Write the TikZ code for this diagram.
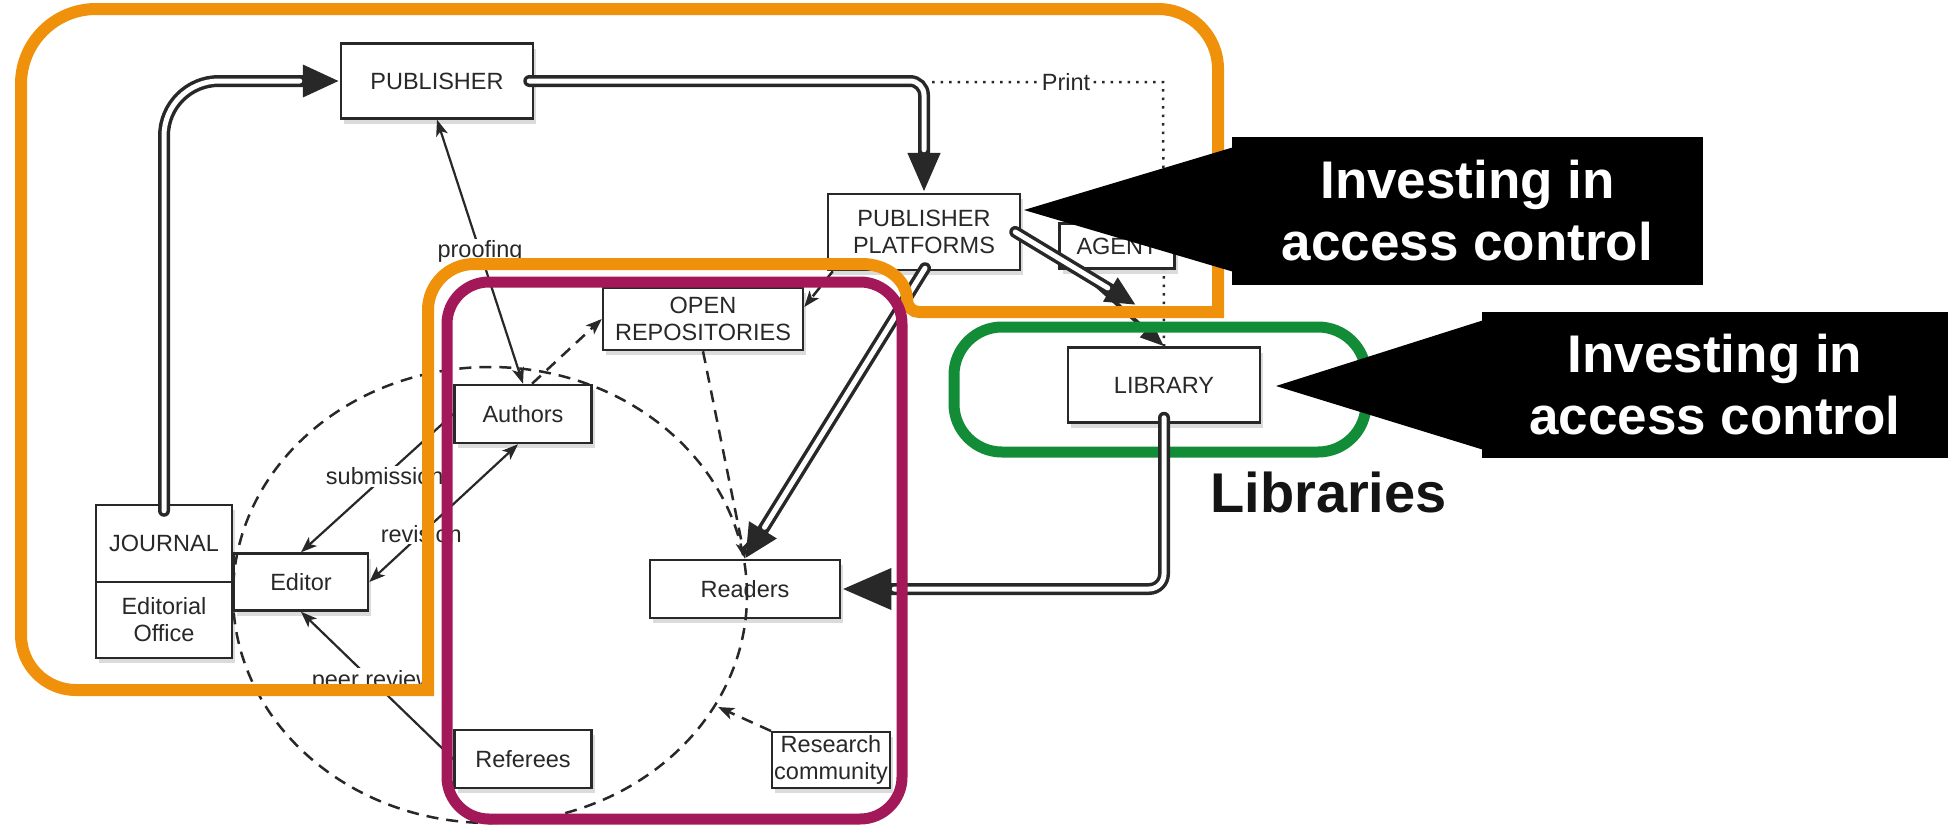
\documentclass[tikz,border=0pt]{standalone}
\usepackage{fontspec}
\setmainfont{Liberation Sans}
\usetikzlibrary{arrows.meta,calc,shadows}
\definecolor{ink}{RGB}{40,40,40}
\definecolor{orng}{RGB}{240,145,12}
\definecolor{mgnt}{RGB}{162,24,88}
\definecolor{grn}{RGB}{18,140,55}
\pgfdeclarelayer{bg}
\pgfsetlayers{bg,main}
\tikzset{
  >={Stealth[length=16pt,width=12pt,inset=4pt]},
  box/.style={draw=ink, line width=2.5pt, fill=white, inner sep=0pt, align=center,
    font=\fontsize{23.5}{27}\selectfont, text=ink,
    drop shadow={shadow xshift=3pt, shadow yshift=-5pt, fill=black!28, draw=none}},
  dbk/.style={line width=12pt, draw=ink, line cap=round},
  dwh/.style={line width=5pt, draw=white, line cap=round},
  thinarrow/.style={draw=ink, line width=2.2pt},
  dsh/.style={draw=ink, line width=2.5pt, dash pattern=on 12pt off 8pt},
  dots/.style={draw=ink, line width=2.5pt, dash pattern=on 2.5pt off 6pt},
  lbl/.style={fill=white, inner sep=2pt, font=\fontsize{23.5}{27}\selectfont, text=ink},
  callout/.style={fill=black, text=white, inner sep=0pt, align=center,
    font=\bfseries\fontsize{53}{62}\selectfont},
  overlay/.style={line width=12pt},
}
\begin{document}
\begin{tikzpicture}[x=1pt,y=-1pt]
\begin{pgfonlayer}{bg}
  \fill[white] (0,0) rectangle (1948,825);
\end{pgfonlayer}
\useasboundingbox (0,0) rectangle (1948,825);

% green group (behind diagram)
\draw[grn, line width=11pt, rounded corners=48pt] (954,327) rectangle (1366,452);

% boxes
\node[box, minimum width=192pt, minimum height=75pt] (publisher) at (437,81) {PUBLISHER};
\node[box, minimum width=192pt, minimum height=76pt] (pp) at (924,232) {PUBLISHER\\PLATFORMS};
\node[box, minimum width=115pt, minimum height=45pt] (agent) at (1117,246) {AGENT};
\node[box, minimum width=200pt, minimum height=62pt] (openrep) at (703,319) {OPEN\\REPOSITORIES};
\node[box, minimum width=137pt, minimum height=58pt] (authors) at (523,414) {Authors};
\node[box, minimum width=136pt, minimum height=77pt] (journal) at (164,543.5) {JOURNAL};
\node[box, minimum width=136pt, minimum height=76pt] (office) at (164,620) {Editorial\\Office};
\node[box, minimum width=134pt, minimum height=57pt] (editor) at (301,582) {Editor};
\node[box, minimum width=190pt, minimum height=58pt] (readers) at (745,589) {Readers};
\node[box, minimum width=137pt, minimum height=58pt] (referees) at (523,759) {Referees};
\node[box, line width=2pt, minimum width=118pt, minimum height=56pt] (research) at (831,760) {Research\\community};
\node[box, minimum width=192pt, minimum height=75pt] (library) at (1164,385) {LIBRARY};

% community circle
\draw[dsh] (490,595) ellipse [x radius=257pt, y radius=228pt];

% connectors behind boxes
\coordinate (pcorner) at (932,82);
\coordinate (pturn) at (1163,82);
\begin{pgfonlayer}{bg}
  \draw[dots] (pcorner) -- (pturn) -- (library.north);
  \draw[line width=4pt, draw=ink, -{Triangle[length=24pt,width=18pt]}]
    ([shift={(3pt,16pt)}]agent.south west) -- (library.north);
\end{pgfonlayer}
\node[lbl] (print) at (1066,82) {Print};

% double connectors
\draw[dbk, rounded corners=55pt, -{Triangle[length=37pt,width=30pt]}] ([yshift=-7pt]journal.north) |- (publisher.west);
\draw[dwh, rounded corners=55pt, shorten >=40pt] ([yshift=-7pt]journal.north) |- (publisher.west);

\draw[dbk, rounded corners=14pt, -{Triangle[length=40pt,width=30pt]}] ([xshift=-5pt]publisher.east) -| (pp.north);
\draw[dwh, rounded corners=14pt, shorten >=43pt] ([xshift=-5pt]publisher.east) -| (pp.north);

\draw[dbk, -{Triangle[length=34pt,width=30pt]}] ([shift={(1pt,3pt)}]pp.south) -- (readers.north);
\draw[dwh, shorten >=37pt] ([shift={(1pt,3pt)}]pp.south) -- (readers.north);

\coordinate (libin) at (1136,305);
\draw[dbk, -{Triangle[length=30pt,width=26pt]}] ([xshift=-6pt]pp.east) -- (libin);
\draw[dwh, shorten >=33pt] ([xshift=-6pt]pp.east) -- (libin);

\draw[dbk, rounded corners=15pt, -{Triangle[length=50pt,width=38pt]}] ([yshift=6pt]library.south) |- (readers.east);
\draw[dwh, rounded corners=15pt, shorten >=53pt] ([yshift=6pt]library.south) |- (readers.east);

% thin labelled connectors
\draw[thinarrow, <->] (publisher.south) -- node[lbl] {proofing} (authors.north);
\draw[thinarrow, ->] (authors.west) -- node[lbl, pos=0.45] {submission} (editor.north);
\draw[thinarrow, <->] (editor.east) -- node[lbl, pos=0.35] {revision} ([xshift=-5pt]authors.south);
\draw[thinarrow, ->] (referees.west) -- node[lbl, pos=0.53] {peer review} (editor.south);

% dashed connectors
\draw[dsh, ->] ([xshift=9pt]authors.north) -- (openrep.west);
\draw[dsh, ->] ([xshift=6pt]pp.south west) -- ([yshift=12pt]openrep.east);
\draw[dsh, ->] (openrep.south) -- (readers.north);
\coordinate (cpt) at (718,707);
\draw[dsh, ->] (research.north west) -- (cpt);

% orange group outline
\draw[orng, overlay, line join=miter]
  (21,84) .. controls (21,42.6) and (54.6,9) .. (96,9)
  -- (1158,9) .. controls (1191.1,9) and (1218,35.9) .. (1218,69)
  -- (1218,312) -- (919,312)
  .. controls (912.4,312) and (907,306.6) .. (907,300)
  .. controls (907,280.1) and (886.8,264) .. (862,264)
  -- (474,264) .. controls (448.6,264) and (428,284.6) .. (428,310)
  -- (428,690) -- (76,690)
  .. controls (45.6,690) and (21,665.4) .. (21,635)
  -- cycle;

% magenta group outline
\draw[mgnt, line width=11pt, rounded corners=42pt] (447,282) rectangle (902,819);

% callouts
\node[callout, minimum width=471pt, minimum height=148pt] (call1) at (1467.5,211) {Investing in\\access control};
\coordinate (tip1) at (1024,210);
\fill[black] (tip1) -- (1234,147) -- (1234,272) -- cycle;

\node[callout, minimum width=466pt, minimum height=146pt] (call2) at (1715,385) {Investing in\\access control};
\coordinate (tip2) at (1276,386);
\fill[black] (tip2) -- (1484,320) -- (1484,450) -- cycle;

\node[anchor=base west, inner sep=0pt, text={rgb,255:red,20;green,20;blue,20},
  font=\bfseries\fontsize{56}{60}\selectfont] (libs) at (1210,512) {Libraries};
\end{tikzpicture}
\end{document}
